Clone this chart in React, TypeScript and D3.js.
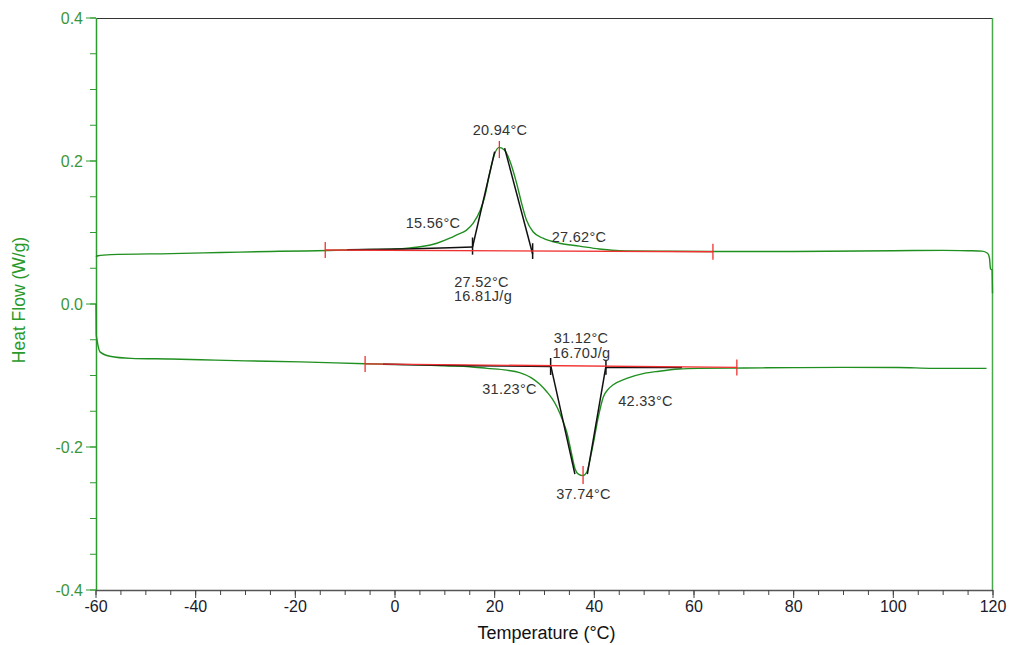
import React from "react";
import * as d3 from "d3";

const W = 1010;
const H = 645;
const margin = { top: 18, right: 17, bottom: 55, left: 96 };

// upper trace (exotherm)
const upperT = [-60, -59.6, -57, -45, -35, -25, -18, -10, -5, 0, 3, 5, 8.4, 11, 12.5, 14.3, 15.7, 17.1, 18, 19, 20, 20.9, 22, 23, 24.4, 25.4, 26.4, 27.7, 29.7, 33, 37, 41, 45, 55, 64, 80, 100, 110, 115, 117.8, 118.9, 119.3, 119.5, 119.8, 119.9];
const upperHF = [0.066, 0.0675, 0.069, 0.0705, 0.072, 0.0735, 0.0742, 0.0755, 0.0762, 0.077, 0.0785, 0.08, 0.085, 0.092, 0.097, 0.103, 0.113, 0.131, 0.15, 0.183, 0.21, 0.219, 0.215, 0.201, 0.169, 0.141, 0.117, 0.101, 0.092, 0.085, 0.081, 0.077, 0.0745, 0.0738, 0.0735, 0.0735, 0.0745, 0.075, 0.0745, 0.074, 0.071, 0.064, 0.049, 0.048, 0.015];

// lower trace (endotherm)
const lowerT = [-60, -59.95, -59.8, -59.2, -57.2, -53, -45, -39, -30, -19, -6, 0, 6.4, 10, 15, 18.5, 22.4, 25, 27.3, 29, 30.5, 31.5, 32.5, 33.5, 34.5, 35.3, 36.1, 36.8, 37.7, 38.5, 39.2, 39.8, 40.8, 41.8, 42.8, 43.8, 46.5, 50, 53, 57, 61, 70, 80, 90, 101, 108, 118.7];
const lowerHF = [0.0, -0.043, -0.05, -0.067, -0.073, -0.076, -0.077, -0.078, -0.0795, -0.081, -0.0835, -0.0845, -0.0853, -0.0865, -0.0877, -0.09, -0.0925, -0.096, -0.103, -0.112, -0.123, -0.132, -0.144, -0.16, -0.18, -0.205, -0.23, -0.238, -0.24, -0.235, -0.215, -0.195, -0.158, -0.13, -0.119, -0.113, -0.104, -0.097, -0.094, -0.091, -0.09, -0.0895, -0.089, -0.0887, -0.0888, -0.09, -0.09];

// analysis lines (black) as [T, HF]
const upperOnsetBase = [[-9.6, 0.0759], [2.0, 0.0769], [11.0, 0.0787], [15.56, 0.0797]];
const upperLeftTangent = [[15.56, 0.0797], [20.0, 0.213]];
const upperRightTangent = [[22.0, 0.218], [27.62, 0.07]];
const upperTicks = [[15.56, 0.069, 0.093], [27.62, 0.063, 0.085]];
const lowerOnsetBase = [[-2.4, -0.0843], [6.4, -0.0853], [15, -0.0863], [31.23, -0.0874]];
const lowerEndBase = [[42.33, -0.0888], [57.6, -0.0888]];
const lowerLeftTangent = [[31.23, -0.0855], [36.1, -0.238]];
const lowerRightTangent = [[42.33, -0.087], [38.6, -0.238]];
const lowerTicks = [[31.23, -0.0755, -0.0993], [42.33, -0.078, -0.099]];

// integration baselines (red)
const upperBaseline = [[-14, 0.0755], [63.8, 0.0731]];
const lowerBaseline = [[-6, -0.0838], [68.6, -0.0887]];
const peakMarks = [[20.94, 0.228, 0.204], [37.74, -0.2266, -0.2517]];

const labels = [
  { text: "20.94°C", T: 21.07, HF: 0.2364 },
  { text: "15.56°C", T: 7.62, HF: 0.1063 },
  { text: "27.62°C", T: 36.92, HF: 0.0874 },
  { text: "27.52°C", T: 17.36, HF: 0.0238 },
  { text: "16.81J/g", T: 17.66, HF: 0.0042 },
  { text: "31.12°C", T: 37.32, HF: -0.0545 },
  { text: "16.70J/g", T: 37.42, HF: -0.0755 },
  { text: "31.23°C", T: 22.98, HF: -0.1259 },
  { text: "42.33°C", T: 50.27, HF: -0.1427 },
  { text: "37.74°C", T: 37.82, HF: -0.2727 },
];

const green = "#1f8f1f";
const axisGreen = "#2f9a2f";
const red = "#f03030";

export default function App() {
  const x = d3.scaleLinear().domain([-60, 120]).range([margin.left, W - margin.right]);
  const y = d3.scaleLinear().domain([-0.4, 0.4]).range([H - margin.bottom, margin.top]);

  const trace = (ts: number[], vs: number[]) =>
    d3
      .line<number>()
      .x((t) => x(t))
      .y((_, i) => y(vs[i]))
      .curve(d3.curveMonotoneX)(ts) || "";

  const poly = d3
    .line<number[]>()
    .x((d) => x(d[0]))
    .y((d) => y(d[1]));

  const xMajor = x.ticks(9);
  const xMinor = x.ticks(36);
  const yMajor = y.ticks(4);
  const yMinor = y.ticks(16);

  const [x0, x1] = x.range();
  const [yb, yt] = y.range();

  const font = "Arial, 'Liberation Sans', sans-serif";

  return (
    <svg width={W} height={H} style={{ position: "absolute", left: 0, top: 0, background: "#fff" }} fontFamily={font}>
      {/* frame */}
      <line x1={x0} x2={x1} y1={yt + 0.5} y2={yt + 0.5} stroke="#333" />
      <line x1={x1 - 0.5} x2={x1 - 0.5} y1={yt} y2={yb} stroke="#4aa84a" strokeWidth={1.5} />

      {/* x axis */}
      <line x1={x0} x2={x1} y1={yb + 0.5} y2={yb + 0.5} stroke="#555" strokeWidth={1.5} />
      {xMinor.map((t) => (
        <line key={"xm" + t} x1={x(t)} x2={x(t)} y1={yb} y2={yb + 5} stroke="#444" />
      ))}
      {xMajor.map((t) => (
        <g key={"xM" + t}>
          <line x1={x(t)} x2={x(t)} y1={yb} y2={yb + 8} stroke="#444" />
          <text x={x(t)} y={yb + 22} textAnchor="middle" fontSize={16} fill="#1a1a2a">
            {String(t)}
          </text>
        </g>
      ))}
      <text x={(x0 + x1) / 2 + 2} y={H - 6} textAnchor="middle" fontSize={18} fill="#111">
        Temperature (°C)
      </text>

      {/* y axis */}
      <line x1={x0 + 0.5} x2={x0 + 0.5} y1={yt} y2={yb} stroke={axisGreen} strokeWidth={1.5} />
      {yMinor.map((v) => (
        <line key={"ym" + v} x1={x0 - 6} x2={x0} y1={y(v)} y2={y(v)} stroke={axisGreen} />
      ))}
      {yMajor.map((v) => (
        <g key={"yM" + v}>
          <line x1={x0 - 10} x2={x0} y1={y(v)} y2={y(v)} stroke={axisGreen} />
          <text x={x0 - 13} y={y(v) + 5.5} textAnchor="end" fontSize={16} fill="#3a963a">
            {(Math.abs(v) < 1e-9 ? 0 : v).toFixed(1)}
          </text>
        </g>
      ))}
      <text
        transform={`translate(${25},${300}) rotate(-90)`}
        textAnchor="middle"
        fontSize={17.5}
        fill="#2a9a2a"
      >
        Heat Flow (W/g)
      </text>

      {/* traces */}
      <path d={trace(upperT, upperHF)} fill="none" stroke={green} strokeWidth={1.4} />
      <path d={trace(lowerT, lowerHF)} fill="none" stroke={green} strokeWidth={1.4} />

      {/* analysis lines */}
      {[upperOnsetBase, upperLeftTangent, upperRightTangent, lowerOnsetBase, lowerEndBase, lowerLeftTangent, lowerRightTangent].map(
        (seg, i) => (
          <path key={"a" + i} d={poly(seg) || ""} fill="none" stroke="#111" strokeWidth={1.5} />
        )
      )}
      {[...upperTicks, ...lowerTicks].map((d, i) => (
        <line key={"t" + i} x1={x(d[0])} x2={x(d[0])} y1={y(d[1])} y2={y(d[2])} stroke="#111" strokeWidth={1.5} />
      ))}

      {/* baselines */}
      {[upperBaseline, lowerBaseline].map((seg, i) => (
        <g key={"b" + i}>
          <path d={poly(seg) || ""} fill="none" stroke={red} strokeWidth={1.3} />
          {seg.map((d, j) => (
            <line key={j} x1={x(d[0])} x2={x(d[0])} y1={y(d[1]) - 8} y2={y(d[1]) + 8} stroke={red} strokeWidth={1.3} />
          ))}
        </g>
      ))}
      {peakMarks.map((d, i) => (
        <line key={"p" + i} x1={x(d[0])} x2={x(d[0])} y1={y(d[1])} y2={y(d[2])} stroke={red} strokeWidth={1.3} />
      ))}

      {/* labels */}
      {labels.map((l) => (
        <text key={l.text} x={x(l.T)} y={y(l.HF)} textAnchor="middle" fontSize={14.5} letterSpacing={0.3} fill="#333">
          {l.text}
        </text>
      ))}
    </svg>
  );
}
